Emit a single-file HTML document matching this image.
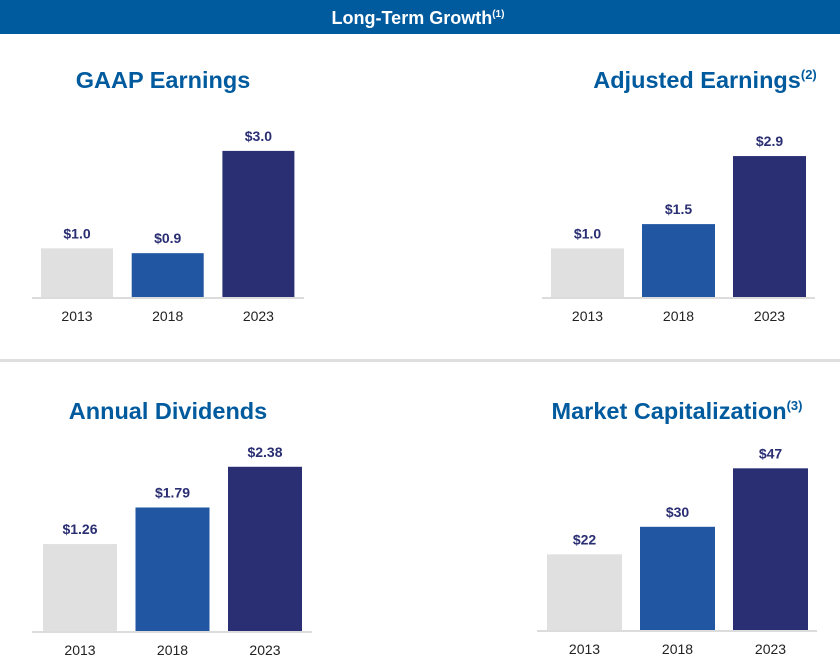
<!DOCTYPE html>
<html><head><meta charset="utf-8"><style>
body{margin:0;width:840px;height:660px;background:#fff;font-family:"Liberation Sans",Arial,sans-serif;overflow:hidden}
svg text{font-family:"Liberation Sans",Arial,sans-serif}
</style></head><body>
<svg id="c" width="840" height="660">
<rect x="0" y="0" width="840" height="34" fill="#005a9e"/>
<text x="418" y="24" text-anchor="middle" fill="#fff" font-size="18" font-weight="bold">Long-Term Growth<tspan font-size="10" dy="-7">(1)</tspan></text>
<rect x="0" y="359" width="840" height="3" fill="#dedede"/>
</svg>
<script>
const years = ["2013","2018","2023"];
const gaapValues = [1.0, 0.9, 3.0];
const gaapLabels = ["$1.0","$0.9","$3.0"];
const adjValues = [1.0, 1.5, 2.9];
const adjLabels = ["$1.0","$1.5","$2.9"];
const divValues = [1.26, 1.79, 2.38];
const divLabels = ["$1.26","$1.79","$2.38"];
const capValues = [22, 30, 47];
const capLabels = ["$22","$30","$47"];

const colors = ["#e0e0e0","#2156a3","#2a2e72"];
const svg = document.getElementById('c');
const NS = "http://www.w3.org/2000/svg";
function mk(tag, attrs){const e=document.createElementNS(NS,tag);for(const k in attrs)e.setAttribute(k,attrs[k]);svg.appendChild(e);return e;}

const panels = [
 {key:"gaap", title:"GAAP Earnings", sup:"", tx:163, ty:88, vals:gaapValues, labels:gaapLabels, x0:41, bw:72, step:90.7, base:297, scale:48.7, ax0:32, ax1:304},
 {key:"adjusted", title:"Adjusted Earnings", sup:"(2)", tx:705, ty:88, vals:adjValues, labels:adjLabels, x0:551, bw:73, step:91, base:297, scale:48.6, ax0:542, ax1:815},
 {key:"dividends", title:"Annual Dividends", sup:"", tx:168, ty:419, vals:divValues, labels:divLabels, x0:43, bw:74, step:92.5, base:631, scale:69, ax0:32, ax1:312},
 {key:"market-cap", title:"Market Capitalization", sup:"(3)", tx:677, ty:419, vals:capValues, labels:capLabels, x0:547, bw:75, step:93, base:630, scale:3.44, ax0:537, ax1:817}
];

panels.forEach(p=>{
  const t = mk('text',{x:p.tx,y:p.ty,'text-anchor':'middle',fill:'#005a9e','font-size':'23.5','font-weight':'bold'});
  
  
  t.textContent = p.title;
  if(p.sup){const s=document.createElementNS(NS,'tspan');s.setAttribute('font-size','13');s.setAttribute('dy','-9');s.textContent=p.sup;t.appendChild(s);}
  const ax = mk('line',{x1:p.ax0,x2:p.ax1,y1:p.base+1,y2:p.base+1,stroke:'#dcdcdc','stroke-width':'2'});
  
  
  p.vals.forEach((v,i)=>{
    const x = p.x0 + i*p.step;
    const h = v*p.scale;
    const r = mk('rect',{x:x,y:p.base-h,width:p.bw,height:h,fill:colors[i]});
    
    
    const lb = mk('text',{x:x+p.bw/2,y:p.base-h-10,'text-anchor':'middle',fill:'#2a2e72','font-size':'14','font-weight':'bold'});
    
    
    lb.textContent = p.labels[i];
    const yl = mk('text',{x:x+p.bw/2,y:p.base+24,'text-anchor':'middle',fill:'#222','font-size':'14'});
    
    
    yl.textContent = years[i];
  });
});
</script>
</body></html>
